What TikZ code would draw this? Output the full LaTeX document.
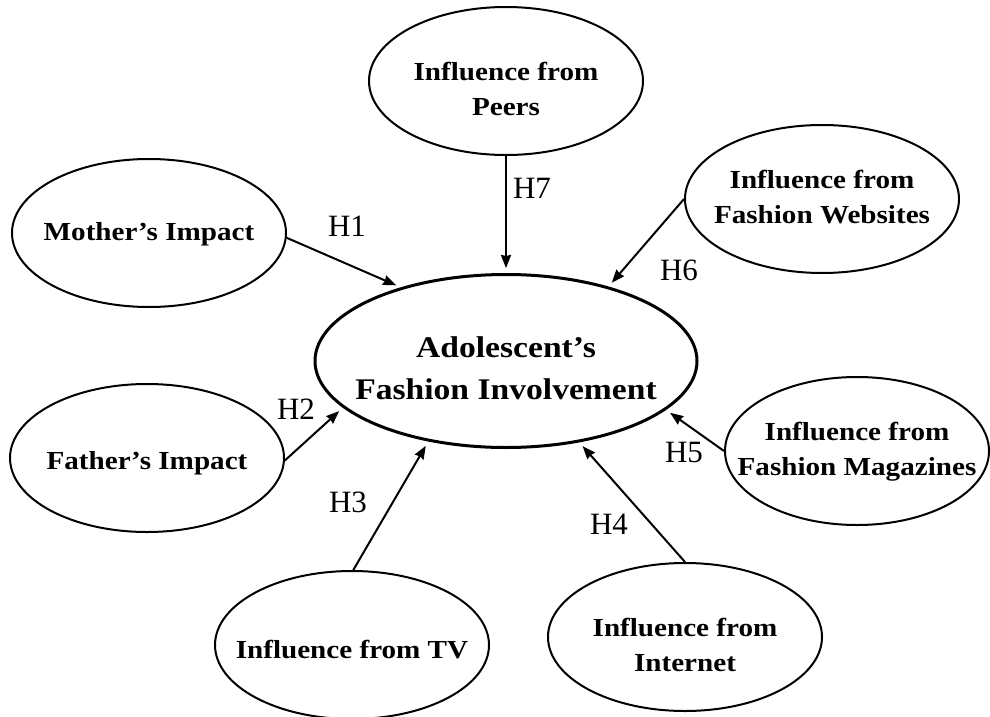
\documentclass[tikz,border=0pt]{standalone}
\usepackage{fontspec}
\setmainfont{Liberation Serif}
\newfontfamily\nodefont{Liberation Serif}[FakeStretch=1.12]
\usetikzlibrary{shapes.geometric,arrows.meta}
\newcommand\elltext[2][0pt]{\makebox[0pt]{\raisebox{-#1}[\height][\depth]{\begin{tabular}{@{}c@{}}#2\end{tabular}}}}
\begin{document}
\begin{tikzpicture}[x=1pt,y=-1pt,
  small/.style={ellipse, draw, line width=2pt, minimum width=274pt, minimum height=148pt, inner sep=0pt,
    font=\nodefont\bfseries\fontsize{26}{35}\selectfont},
  big/.style={ellipse, draw, line width=3pt, minimum width=382pt, minimum height=173pt, inner sep=0pt,
    font=\nodefont\bfseries\fontsize{30}{42}\selectfont},
  hyp/.style={font=\fontsize{31}{31}\selectfont, inner sep=0pt},
  link/.style={line width=2pt, -{Stealth[length=13pt,width=10pt,inset=1pt]}, shorten >=5pt}]
\useasboundingbox (0,0) rectangle (990,717);
\node[big] (C) at (506,361) {\elltext[9pt]{Adolescent’s\\Fashion Involvement}};
\node[small] (peers) at (506,81) {\elltext[10pt]{Influence from\\Peers}};
\node[small] (web) at (822,199) {\elltext{Influence from\\Fashion Websites}};
\node[small] (mother) at (149,233) {\elltext{Mother’s Impact}};
\node[small] (father) at (147,458) {\elltext[4pt]{Father’s Impact}};
\node[small, minimum width=264pt] (mag) at (857,451) {\elltext{Influence from\\Fashion Magazines}};
\node[small] (tv) at (352,645) {\elltext[6pt]{Influence from TV}};
\node[small] (net) at (685,637) {\elltext[10pt]{Influence from\\Internet}};
\draw[link] (mother.-2) -- (C.145);
\draw[link] (father.-1) -- (C.196);
\draw[link] (tv.89) -- (C.226);
\draw[link] (net.90) -- (C.-48.5);
\draw[link] (mag.180) -- (C.-17);
\draw[link] (web.180) -- (C.36);
\draw[link] (peers.270) -- (C.90);
\node[hyp] (h1) at (347,226) {H1};
\node[hyp] (h2) at (296,409) {H2};
\node[hyp] (h3) at (348,502) {H3};
\node[hyp] (h4) at (609,524) {H4};
\node[hyp] (h5) at (684,452) {H5};
\node[hyp] (h6) at (679,270) {H6};
\node[hyp] (h7) at (532,188) {H7};
\end{tikzpicture}
\end{document}
